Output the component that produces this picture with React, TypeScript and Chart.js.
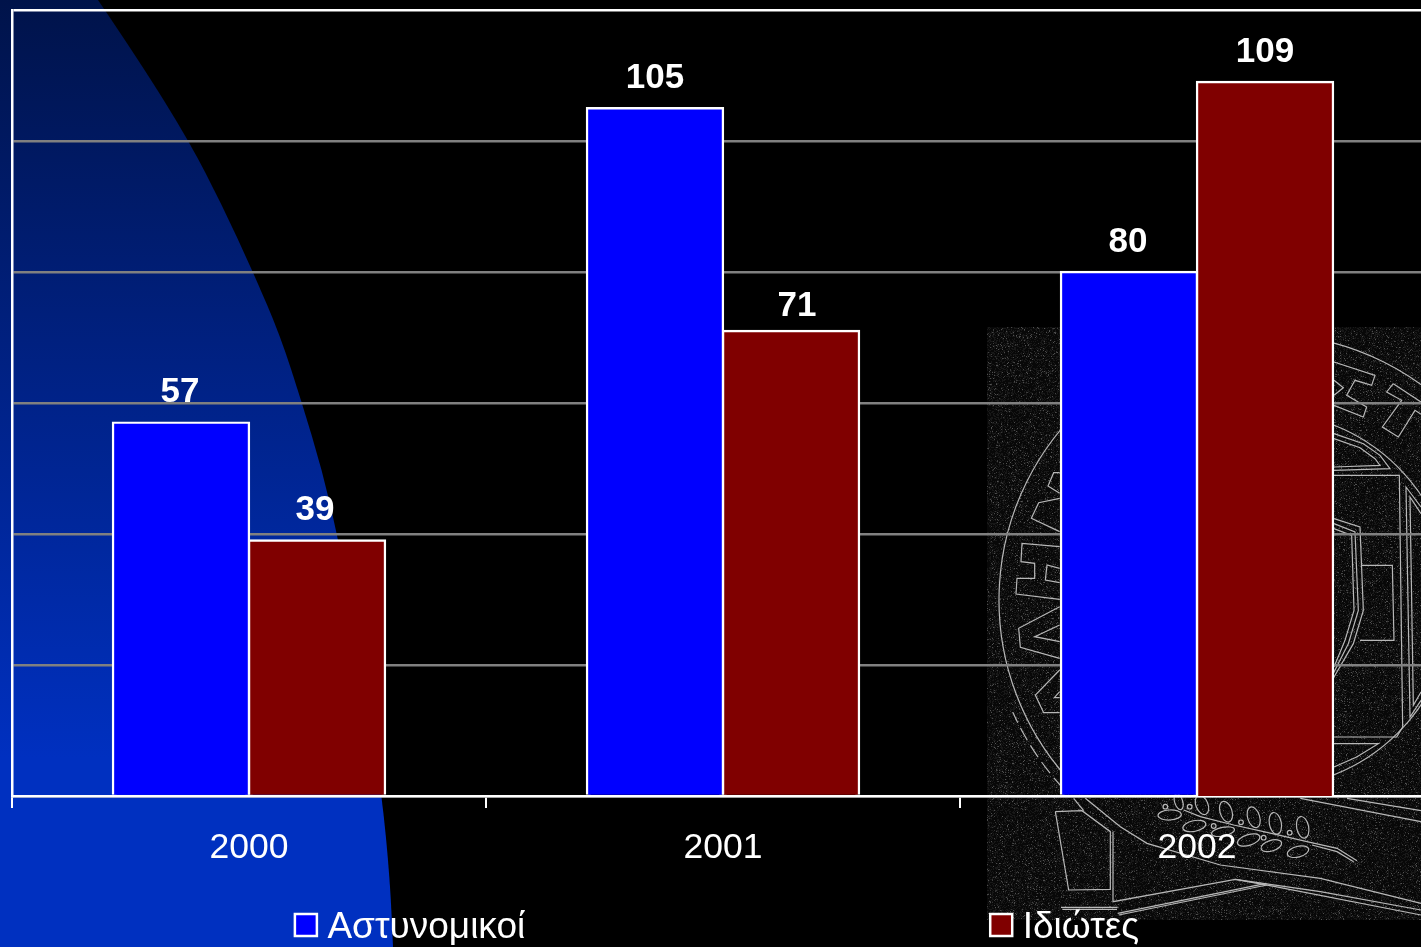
import React, { useEffect, useRef } from "react";
import { Chart, registerables } from "chart.js";

Chart.register(...registerables);

const categories = ["2000", "2001", "2002"];
const seriesNames = ["Αστυνομικοί", "Ιδιώτες"];
const policeValues = [57, 105, 80];
const civilianValues = [39, 71, 109];
const policeColor = "#0000ff";
const civilianColor = "#800000";
const FONT = '"Liberation Sans", Arial, sans-serif';

// small placement nudges of the value labels, as in the original slide
const labelNudgeX = [[-1, 0, -1], [-2, 6, 0]];
const labelNudgeY = [[0, 0, 0], [0, 6, 0]];

// Decoration: left swoosh edge and seal outlines (background picture, not data)
const swooshEdge: [number, number][] = [
  [98, 0], [140, 62], [189, 141], [222, 205], [253, 272], [280, 335], [302, 403], [322, 470],
  [337, 534], [352, 610], [366, 690], [382, 796], [390, 880], [393, 947],
];

const mapper = (ox: number, oy: number) => (p: number[]) => {
  const out: [number, number][] = [];
  for (let i = 0; i < p.length; i += 2) out.push([ox + p[i] / 3, oy + p[i + 1] / 3]);
  return out;
};
const A = mapper(987, 400);
const B = mapper(1330, 327);
const C = mapper(987, 790);
const sealLines: [number, number][][] = [
  ...[
    [218, 218, 200, 218, 183, 258, 218, 280],
    [218, 295, 155, 308, 133, 355, 218, 395],
    [218, 440, 105, 430, 102, 485, 143, 490, 143, 535, 90, 535, 87, 582, 218, 598],
    [218, 505, 180, 495, 175, 540, 218, 548],
    [218, 620, 95, 685, 100, 742, 218, 775],
    [218, 675, 143, 710, 218, 725],
    [218, 810, 145, 885, 170, 938, 218, 938],
    [218, 875, 202, 893, 218, 893],
  ].map(A),
  ...[
    [12, 105, 135, 145, 125, 175, 75, 160, 50, 205, 110, 240, 100, 270, 12, 235],
    [12, 160, 40, 182, 12, 205],
    [190, 170, 273, 225],
    [273, 262, 255, 250, 205, 330, 157, 300, 215, 220, 170, 195, 190, 170],
    [12, 320, 100, 350, 150, 385, 180, 425, 12, 430],
    [12, 335, 90, 362, 135, 395, 150, 415, 12, 420],
    [12, 1250, 145, 1250, 80, 1290, 12, 1320],
    [12, 445, 208, 445, 218, 1200, 200, 1230, 12, 1230],
    [12, 575, 90, 600, 100, 850, 70, 950, 12, 1050],
    [12, 590, 75, 615, 85, 850, 55, 950, 12, 1035],
    [12, 605, 65, 625, 72, 850, 45, 940, 12, 1020],
    [95, 715, 187, 715, 192, 940, 90, 940],
    [273, 540, 228, 480, 240, 1170, 273, 1120],
    [273, 560, 240, 510, 250, 1135, 273, 1095],
  ].map(B),
  ...[
    [205, 65, 285, 62, 370, 125, 370, 298, 245, 300, 205, 65],
    [260, 25, 290, 62],
    [378, 125, 378, 335, 745, 268, 865, 290, 1302, 375],
    [295, 25, 400, 110, 480, 160, 700, 225, 1000, 265, 1302, 340],
    [745, 268, 1000, 305, 1302, 360],
    [395, 375, 840, 285],
    [392, 370, 838, 280],
    [222, 352, 392, 352],
    [226, 358, 390, 358],
    [940, 25, 1302, 95],
    [1080, 25, 1302, 62],
    [590, 60, 640, 80, 740, 105, 830, 125, 960, 155, 1050, 175, 1110, 212],
    [975, 165, 1050, 185, 1100, 215],
  ].map(C),
];
// x, y, radius x, radius y, rotation in the crop's coordinates
const sealLeaves = [
  [548, 75, 35, 15, -0.05], [575, 35, 12, 25, -0.3], [645, 45, 18, 30, -0.4], [717, 65, 18, 32, -0.3],
  [800, 82, 18, 32, -0.3], [865, 100, 18, 33, -0.2], [947, 112, 18, 33, -0.2], [622, 108, 35, 16, -0.2],
  [708, 125, 35, 13, -0.2], [785, 150, 35, 16, -0.3], [853, 167, 32, 16, -0.3], [933, 185, 33, 16, -0.25],
  [535, 50, 7, 7, 0], [608, 50, 7, 7, 0], [680, 108, 7, 7, 0], [762, 97, 7, 7, 0], [830, 143, 7, 7, 0], [908, 128, 7, 7, 0],
];

let noise: HTMLCanvasElement | null = null;
function sealNoise(w: number, h: number) {
  if (noise) return noise;
  const c = document.createElement("canvas");
  c.width = w;
  c.height = h;
  const g = c.getContext("2d")!;
  const img = g.createImageData(w, h);
  let s = 12345;
  for (let i = 0; i < w * h; i++) {
    s = (s * 1103515245 + 12345) & 0x7fffffff;
    const r = (s >> 12) & 255;
    const v = r < 16 ? 48 + r * 2.5 : r < 100 ? 24 : 8;
    img.data[i * 4] = img.data[i * 4 + 1] = img.data[i * 4 + 2] = v;
    img.data[i * 4 + 3] = 255;
  }
  g.putImageData(img, 0, 0);
  noise = c;
  return c;
}

const backgroundPlugin = {
  id: "slideBackground",
  beforeDraw(chart: any) {
    const { ctx, width, height } = chart;
    ctx.save();
    ctx.fillStyle = "#000";
    ctx.fillRect(0, 0, width, height);

    ctx.drawImage(sealNoise(447, 593), 987, 327);
    ctx.strokeStyle = "#b8b8b8";
    ctx.lineWidth = 1.2;
    ctx.beginPath();
    ctx.arc(1265, 600, 266, (138 * Math.PI) / 180, Math.PI * 2);
    ctx.stroke();
    ctx.beginPath();
    ctx.arc(1265, 600, 188, 0, Math.PI * 2);
    ctx.stroke();
    ctx.setLineDash([14, 6]);
    ctx.beginPath();
    ctx.arc(1265, 600, 276, (137 * Math.PI) / 180, (156 * Math.PI) / 180);
    ctx.stroke();
    ctx.setLineDash([]);
    for (const line of sealLines) {
      ctx.beginPath();
      line.forEach(([x, y], i) => (i ? ctx.lineTo(x, y) : ctx.moveTo(x, y)));
      ctx.stroke();
    }
    for (const [zx, zy, rx, ry, rot] of sealLeaves) {
      const [[x, y]] = C([zx, zy]);
      ctx.beginPath();
      ctx.ellipse(x, y, rx / 3, ry / 3, rot, 0, Math.PI * 2);
      ctx.stroke();
    }

    const grad = ctx.createLinearGradient(0, 0, 0, height);
    grad.addColorStop(0, "#00134a");
    grad.addColorStop(0.8, "#0030c0");
    grad.addColorStop(1, "#0030c0");
    ctx.fillStyle = grad;
    ctx.beginPath();
    ctx.moveTo(0, 0);
    ctx.lineTo(swooshEdge[0][0], swooshEdge[0][1]);
    for (let i = 1; i < swooshEdge.length - 1; i++) {
      const [x, y] = swooshEdge[i];
      const [nx, ny] = swooshEdge[i + 1];
      ctx.quadraticCurveTo(x, y, (x + nx) / 2, (y + ny) / 2);
    }
    const last = swooshEdge[swooshEdge.length - 1];
    ctx.lineTo(last[0], last[1]);
    ctx.lineTo(0, height);
    ctx.closePath();
    ctx.fill();
    ctx.restore();
  },
};

const valueLabelPlugin = {
  id: "valueLabels",
  afterDatasetsDraw(chart: any) {
    const { ctx } = chart;
    ctx.save();
    ctx.fillStyle = "#fff";
    ctx.font = `bold 35px ${FONT}`;
    ctx.textAlign = "center";
    ctx.textBaseline = "alphabetic";
    chart.data.datasets.forEach((ds: any, i: number) => {
      chart.getDatasetMeta(i).data.forEach((bar: any, j: number) => {
        ctx.fillText(String(ds.data[j]), bar.x + labelNudgeX[i][j], bar.y - 20.5 + labelNudgeY[i][j]);
      });
    });
    ctx.restore();
  },
};

const legendPlugin = {
  id: "wideLegend",
  afterDraw(chart: any) {
    const { ctx, width } = chart;
    const box = 22, gap = 10.5, between = 465, top = 914;
    ctx.save();
    ctx.font = `37px ${FONT}`;
    ctx.textBaseline = "alphabetic";
    ctx.textAlign = "left";
    const ds = chart.data.datasets;
    const widths = ds.map((d: any) => ctx.measureText(d.label).width);
    const total = widths.reduce((a: number, w: number) => a + w + box + gap, 0) + between * (ds.length - 1);
    let x = (width - total) / 2;
    ds.forEach((d: any, i: number) => {
      ctx.fillStyle = d.backgroundColor;
      ctx.fillRect(x, top, box, box);
      ctx.strokeStyle = "#fff";
      ctx.lineWidth = 2.5;
      ctx.strokeRect(x, top, box, box);
      ctx.fillStyle = "#fff";
      ctx.fillText(d.label, x + box + gap, 938);
      x += box + gap + widths[i] + between;
    });
    ctx.restore();
  },
};

export default function App() {
  const ref = useRef<HTMLCanvasElement>(null);
  useEffect(() => {
    document.body.style.margin = "0";
    document.body.style.background = "#000";
    const chart = new Chart(ref.current!, {
      type: "bar",
      data: {
        labels: categories,
        datasets: [
          { label: seriesNames[0], data: policeValues, backgroundColor: policeColor, borderColor: "#fff", borderWidth: 2.4, inflateAmount: 1.2 },
          { label: seriesNames[1], data: civilianValues, backgroundColor: civilianColor, borderColor: "#fff", borderWidth: 2.4, inflateAmount: 1.2 },
        ],
      },
      options: {
        responsive: false,
        animation: false,
        layout: { padding: { top: 10, left: 0, right: 0, bottom: 0 } },
        plugins: { legend: { display: false }, tooltip: { enabled: false } },
        datasets: { bar: { categoryPercentage: 0.574, barPercentage: 1 } },
        scales: {
          x: {
            offset: true,
            afterFit: (s: any) => { s.height = 151; },
            border: { color: "#fff", width: 2.5 },
            grid: { drawOnChartArea: false, color: "#fff", lineWidth: 2, tickLength: 12, offset: true },
            ticks: { color: "#fff", font: { family: FONT, size: 35.5 }, padding: 19, maxRotation: 0 },
          },
          y: {
            min: 0,
            max: 120,
            afterFit: (s: any) => { s.width = 12; },
            border: { color: "#fff", width: 2.5 },
            grid: {
              drawTicks: false,
              lineWidth: 2.5,
              color: (c: any) => (c.tick && c.tick.value === 120 ? "#fff" : "#808080"),
            },
            ticks: { display: false, stepSize: 20 },
          },
        },
      },
      plugins: [backgroundPlugin, valueLabelPlugin, legendPlugin],
    } as any);
    return () => chart.destroy();
  }, []);
  return (
    <div style={{ width: 1421, height: 947, overflow: "hidden", background: "#000" }}>
      <canvas ref={ref} width={1434} height={947} style={{ display: "block" }} />
    </div>
  );
}
